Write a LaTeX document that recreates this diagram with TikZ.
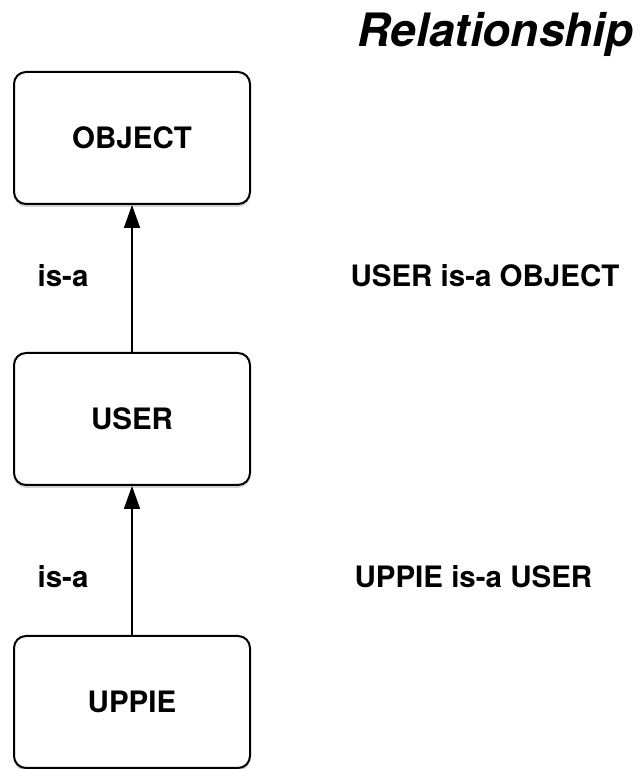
\documentclass[tikz,border=0pt]{standalone}
\usepackage{fontspec}
\setmainfont{TeX Gyre Heros}
\usetikzlibrary{arrows.meta}
\usetikzlibrary{shadows}

\begin{document}
\begin{tikzpicture}[
  classbox/.style={draw, line width=2pt, rounded corners=12pt, fill=white,
    minimum width=236pt, minimum height=132pt,
    drop shadow={shadow xshift=0pt, shadow yshift=-3pt, opacity=0.35},
    font=\fontsize{29.5}{31}\selectfont\bfseries},
  isa/.style={line width=1.8pt, -{Triangle[width=16pt,length=23pt]}},
  txt/.style={font=\fontsize{29.5}{31}\selectfont\bfseries}
]
\useasboundingbox (0,0) rectangle (640pt,769pt);
\node[classbox] (object) at (132pt,631pt) {OBJECT};
\node[classbox] (user) at (132pt,350pt) {USER};
\node[classbox] (uppie) at (132pt,67pt) {UPPIE};
\draw[isa] (user) -- (object);
\draw[isa] (uppie) -- (user);
\node[txt,anchor=base] (isa1) at (63pt,482pt) {is-a};
\node[txt,anchor=base] (isa2) at (63pt,181pt) {is-a};
\node[txt,anchor=base west] (rel1) at (347pt,482pt) {USER is-a OBJECT};
\node[txt,anchor=base west] (rel2) at (351pt,181pt) {UPPIE is-a USER};
\node[anchor=base west,font=\fontsize{46}{48}\selectfont\bfseries\itshape] (title) at (354pt,722pt) {Relationship};
\end{tikzpicture}
\end{document}
